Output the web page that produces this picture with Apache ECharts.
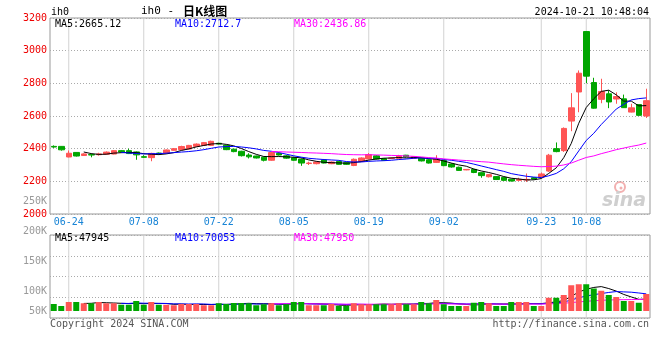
<!DOCTYPE html>
<html><head><meta charset="utf-8">
<script src="https://cdn.jsdelivr.net/npm/echarts/dist/echarts.min.js"></script>
<style>html,body{margin:0;padding:0;background:#fff}#c{width:660px;height:360px}</style>
</head><body><div id="c"></div>
<script>
const dates = ['06-20','06-21','06-24','06-25','06-26','06-27','06-28',
'07-01','07-02','07-03','07-04','07-05','07-08','07-09','07-10','07-11','07-12','07-15','07-16','07-17','07-18','07-19','07-22','07-23','07-24','07-25','07-26','07-29','07-30','07-31',
'08-01','08-02','08-05','08-06','08-07','08-08','08-09','08-12','08-13','08-14','08-15','08-16','08-19','08-20','08-21','08-22','08-23','08-26','08-27','08-28','08-29','08-30',
'09-02','09-03','09-04','09-05','09-06','09-09','09-10','09-11','09-12','09-13','09-18','09-19','09-20','09-23','09-24','09-25','09-26','09-27','09-30',
'10-08','10-09','10-10','10-11','10-14','10-15','10-16','10-17','10-18'];
const tickDates = ['06-24','07-08','07-22','08-05','08-19','09-02','09-23','10-08'];

const opens = [2414,2414,2349,2377,2358,2364,2363,2366,2367,2388,
2388,2380,2351,2345,2373,2373,2390,2394,2398,2414,
2420,2420,2433,2421,2397,2384,2361,2355,2348,2329,
2371,2356,2344,2336,2309,2308,2331,2308,2322,2314,
2297,2321,2337,2356,2339,2340,2341,2360,2341,2343,
2332,2316,2327,2306,2286,2270,2273,2253,2228,2229,
2224,2213,2206,2208,2222,2226,2263,2400,2388,2569,
2747,3117,2805,2702,2736,2704,2705,2624,2670,2600];
const closes = [2410,2393,2372,2355,2368,2361,2368,2379,2388,2380,
2370,2362,2347,2371,2368,2392,2400,2413,2420,2428,
2437,2445,2428,2394,2382,2357,2350,2343,2329,2376,
2361,2342,2329,2312,2312,2318,2312,2318,2304,2304,
2335,2343,2364,2337,2329,2343,2356,2350,2351,2325,
2312,2339,2296,2288,2267,2273,2254,2235,2241,2211,
2206,2202,2212,2212,2214,2245,2360,2382,2524,2650,
2862,2844,2648,2750,2686,2719,2651,2650,2604,2694];
const highs = [2420,2416,2389,2378,2372,2370,2375,2383,2391,2392,
2400,2383,2360,2375,2376,2395,2403,2418,2423,2432,
2441,2449,2436,2423,2399,2387,2372,2357,2351,2380,
2378,2361,2350,2340,2320,2322,2337,2322,2326,2318,
2340,2347,2373,2360,2342,2347,2362,2362,2353,2346,
2335,2360,2330,2310,2290,2275,2277,2256,2245,2232,
2226,2215,2222,2248,2226,2254,2368,2438,2530,2740,
2879,3118,2834,2828,2757,2745,2731,2675,2673,2767];
const lows = [2405,2388,2347,2352,2356,2347,2357,2363,2365,2377,
2367,2332,2344,2323,2362,2370,2387,2391,2396,2412,
2418,2416,2425,2391,2378,2352,2340,2340,2322,2326,
2358,2338,2326,2295,2300,2304,2310,2305,2302,2300,
2293,2319,2335,2334,2326,2336,2338,2346,2338,2322,
2309,2313,2293,2284,2264,2268,2250,2222,2224,2208,
2204,2199,2201,2196,2211,2222,2258,2378,2380,2507,
2623,2801,2645,2678,2648,2675,2649,2622,2602,2588];
const volumes = [28000,20000,36000,36000,31000,31000,36000,31000,31000,25000,
25000,40000,25000,36000,25000,25000,23000,28000,28000,28000,
23000,23000,31000,28000,32000,32000,31000,23000,27000,31000,
23000,27000,36000,36000,23000,23000,23000,28000,20000,20000,
31000,27000,27000,27000,27000,27000,31000,27000,27000,36000,
31000,44000,27000,20000,20000,20000,33000,36000,31000,20000,
20000,36000,36000,36000,20000,20000,53000,53000,64000,103000,
107000,107000,90000,81000,64000,56000,40000,40000,33000,68000];

const volTickLabels = ['250K','200K','150K','100K','50K'];
const mainLegend = ['MA5:2665.12','MA10:2712.7','MA30:2436.86'];
const volLegend = ['MA5:47945','MA10:70053','MA30:47950'];
const headerTexts = ['ih0','ih0 - ','日K线图','2024-10-21 10:48:04'];
const footerTexts = ['Copyright 2024 SINA.COM','http://finance.sina.com.cn'];

function ma(arr, n) {
  return arr.map((v, i) => {
    if (i < n - 1) return '-';
    let s = 0;
    for (let k = i - n + 1; k <= i; k++) s += arr[k];
    return +(s / n).toFixed(2);
  });
}

const RED = '#ff5555', GREEN = '#00a600';
const MONO = '"DejaVu Sans Mono", "Liberation Mono", monospace';
const GRIDC = '#aaaaaa';
const VLINEC = '#d2d2d2';
const isTick = (i, v) => tickDates.indexOf(v) >= 0;

const PRICE_MIN = 2000, PRICE_MAX = 3200;
const VOL_MIN = -28000, VOL_MAX = 304000;

const kData = opens.map((o, i) => [o, closes[i], lows[i], highs[i]]);
const volData = volumes.map((v, i) => ({
  value: v,
  itemStyle: { color: closes[i] >= opens[i] ? RED : GREEN }
}));

// full-height thin bars at the labelled dates act as the vertical gridlines
const vMain = dates.map(d => tickDates.indexOf(d) >= 0 ? PRICE_MAX : '-');
const vVolUp = dates.map(d => tickDates.indexOf(d) >= 0 ? VOL_MAX : '-');
const vVolDown = dates.map(d => tickDates.indexOf(d) >= 0 ? VOL_MIN : '-');

const dotted = { color: GRIDC, width: 1, type: [1, 2] };

function txt(x, y, text, fill, align, font) {
  return { type: 'text', x: x, y: y, silent: true, z: 10,
    style: { text: text, fill: fill, align: align || 'left', verticalAlign: 'middle', font: font || ('10px ' + MONO) } };
}

const graphics = [
  txt(51, 12, headerTexts[0], '#000'),
  txt(141, 11, headerTexts[1], '#000', 'left', '11px ' + MONO),
  txt(183, 11, headerTexts[2], '#000', 'left', 'bold 12px "Noto Sans CJK SC"'),
  txt(649, 12, headerTexts[3], '#000', 'right'),
  txt(55, 24, mainLegend[0], '#000'),
  txt(175, 24, mainLegend[1], '#0000ff'),
  txt(294, 24, mainLegend[2], '#ff00ff'),
  txt(55, 238, volLegend[0], '#000'),
  txt(175, 238, volLegend[1], '#0000ff'),
  txt(294, 238, volLegend[2], '#ff00ff'),
  txt(47, 201, volTickLabels[0], '#999', 'right'),
  txt(47, 231, volTickLabels[1], '#999', 'right'),
  txt(47, 261, volTickLabels[2], '#999', 'right'),
  txt(47, 291, volTickLabels[3], '#999', 'right'),
  txt(47, 311, volTickLabels[4], '#999', 'right'),
  txt(50, 324, footerTexts[0], '#555'),
  txt(649, 324, footerTexts[1], '#555', 'right'),
  { type: 'circle', shape: { cx: 620, cy: 187, r: 5 }, silent: true,
    style: { fill: 'none', stroke: '#f2b0b0', lineWidth: 2 } },
  { type: 'circle', shape: { cx: 621, cy: 188, r: 1.5 }, silent: true,
    style: { fill: '#f2b0b0' } },
  txt(602, 201, 'sina', '#cfcfcf', 'left', 'italic bold 19px "DejaVu Sans"')
];

const hiddenCat = (gi) => ({ type: 'category', gridIndex: gi, data: dates, boundaryGap: true, show: false,
  axisLine: { show: false }, axisTick: { show: false }, axisLabel: { show: false }, splitLine: { show: false } });

const chart = echarts.init(document.getElementById('c'), null, { renderer: 'canvas' });
chart.setOption({
  animation: false,
  backgroundColor: '#ffffff',
  grid: [
    { left: 50, top: 18, width: 600, height: 196, show: true, borderColor: '#999', borderWidth: 1, backgroundColor: 'transparent' },
    { left: 50, top: 235, width: 600, height: 83, show: true, borderColor: '#999', borderWidth: 1, backgroundColor: 'transparent' }
  ],
  xAxis: [
    { type: 'category', gridIndex: 0, data: dates, boundaryGap: true,
      axisLine: { show: false }, axisTick: { show: false },
      axisLabel: { interval: isTick, color: '#1884d6', fontFamily: MONO, fontSize: 10, margin: 3, hideOverlap: false },
      splitLine: { show: false } },
    { type: 'category', gridIndex: 1, data: dates, boundaryGap: true,
      axisLine: { show: false }, axisTick: { show: false },
      axisLabel: { show: false },
      splitLine: { show: false } },
    hiddenCat(0),
    hiddenCat(1)
  ],
  yAxis: [
    { type: 'value', gridIndex: 0, min: PRICE_MIN, max: PRICE_MAX, interval: 200,
      axisLine: { show: false }, axisTick: { show: false },
      axisLabel: { color: '#ee0000', fontFamily: MONO, fontSize: 10, margin: 3, formatter: v => String(v) },
      splitLine: { show: true, lineStyle: dotted } },
    { type: 'value', gridIndex: 1, min: VOL_MIN, max: VOL_MAX, interval: 83000,
      axisLine: { show: false }, axisTick: { show: false }, axisLabel: { show: false },
      splitLine: { show: true, lineStyle: dotted } }
  ],
  series: [
    { type: 'bar', xAxisIndex: 2, yAxisIndex: 0, data: vMain, barWidth: 1, z: 1, silent: true,
      itemStyle: { color: VLINEC } },
    { type: 'bar', xAxisIndex: 3, yAxisIndex: 1, data: vVolUp, barWidth: 1, z: 1, silent: true,
      stack: 'vgrid', itemStyle: { color: VLINEC } },
    { type: 'bar', xAxisIndex: 3, yAxisIndex: 1, data: vVolDown, barWidth: 1, z: 1, silent: true,
      stack: 'vgrid', itemStyle: { color: VLINEC } },
    { type: 'candlestick', xAxisIndex: 0, yAxisIndex: 0, data: kData, barWidth: 6, z: 2,
      itemStyle: { color: RED, color0: GREEN, borderColor: RED, borderColor0: GREEN, borderWidth: 1 } },
    { type: 'line', xAxisIndex: 0, yAxisIndex: 0, data: ma(closes, 5), showSymbol: false, z: 3,
      lineStyle: { color: '#000', width: 1 } },
    { type: 'line', xAxisIndex: 0, yAxisIndex: 0, data: ma(closes, 10), showSymbol: false, z: 3,
      lineStyle: { color: '#0000ff', width: 1 } },
    { type: 'line', xAxisIndex: 0, yAxisIndex: 0, data: ma(closes, 30), showSymbol: false, z: 3,
      lineStyle: { color: '#ff00ff', width: 1 } },
    { type: 'line', xAxisIndex: 1, yAxisIndex: 1, data: ma(volumes, 5), showSymbol: false, z: 2,
      lineStyle: { color: '#000', width: 1 } },
    { type: 'line', xAxisIndex: 1, yAxisIndex: 1, data: ma(volumes, 10), showSymbol: false, z: 2,
      lineStyle: { color: '#0000ff', width: 1 } },
    { type: 'line', xAxisIndex: 1, yAxisIndex: 1, data: ma(volumes, 30), showSymbol: false, z: 2,
      lineStyle: { color: '#ff00ff', width: 1 } },
    { type: 'bar', xAxisIndex: 1, yAxisIndex: 1, data: volData, barWidth: 6, z: 3 }
  ],
  graphic: { elements: graphics }
});
</script>
</body></html>
